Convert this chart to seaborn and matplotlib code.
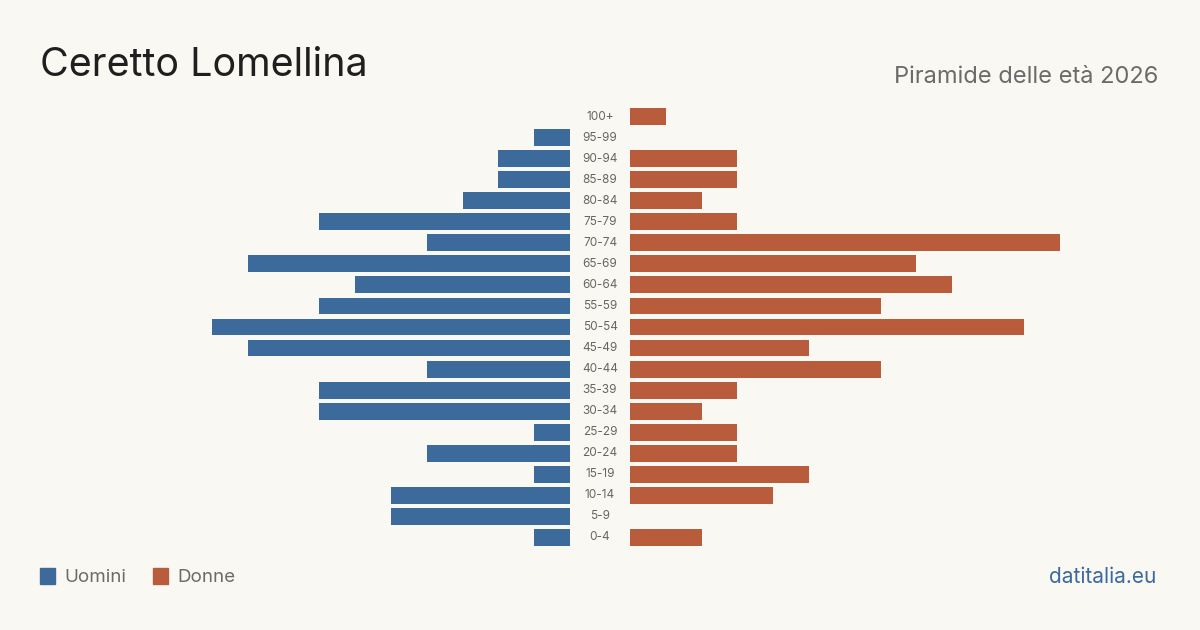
import matplotlib
matplotlib.use("Agg")
import matplotlib.pyplot as plt
import seaborn as sns
import pandas as pd
from matplotlib.patches import Rectangle

# dati piramide (dall'alto verso il basso)
classi = ["100+", "95-99", "90-94", "85-89", "80-84", "75-79", "70-74", "65-69",
          "60-64", "55-59", "50-54", "45-49", "40-44", "35-39", "30-34", "25-29",
          "20-24", "15-19", "10-14", "5-9", "0-4"]
uomini = [0, 1, 2, 2, 3, 7, 4, 9, 6, 7, 10, 9, 4, 7, 7, 1, 4, 1, 5, 5, 1]
donne = [1, 0, 3, 3, 2, 3, 12, 8, 9, 7, 11, 5, 7, 3, 2, 3, 3, 5, 4, 0, 2]

titolo = "Ceretto Lomellina"
sottotitolo = "Piramide delle età 2026"
fonte = "datitalia.eu"

BLU = "#3b6a9b"
ROSSO = "#b95c3c"
SFONDO = "#f9f8f3"

sns.set_theme(style="white")
plt.rcParams["font.family"] = ["Inter", "DejaVu Sans"]

df = pd.DataFrame({"classe": classi, "uomini": uomini, "donne": donne})

fig = plt.figure(figsize=(12, 6.3), dpi=100)
fig.patch.set_facecolor(SFONDO)

W, H = 1200, 630
xmax = 12
px_unit = 35.8
top_px, bot_px = 106, 548
ax_b = (H - bot_px) / H
ax_h = (bot_px - top_px) / H
w_frac = xmax * px_unit / W

axL = fig.add_axes([(570 - xmax * px_unit) / W, ax_b, w_frac, ax_h])
axR = fig.add_axes([630 / W, ax_b, w_frac, ax_h])

sns.barplot(data=df, x="uomini", y="classe", color=BLU, width=0.8,
            saturation=1, linewidth=0, ax=axL)
sns.barplot(data=df, x="donne", y="classe", color=ROSSO, width=0.8,
            saturation=1, linewidth=0, ax=axR)

axL.set_xlim(xmax, 0)
axR.set_xlim(0, xmax)
for ax in (axL, axR):
    ax.set_ylim(len(classi) - 0.5, -0.5)
    ax.set_facecolor("none")
    ax.axis("off")

# etichette delle classi al centro
for i, c in enumerate(classi):
    fig.text(600 / W, 1 - (116.5 + i * 21.05) / H, c, ha="center", va="center",
             fontsize=8.5, color="#666666")

fig.text(40 / W, 1 - 66 / H, titolo, ha="left", va="center",
         fontsize=28.4, color="#1f1f1f")
fig.text(1158 / W, 1 - 77 / H, sottotitolo, ha="right", va="center",
         fontsize=17, color="#6b6b6b")

# legenda
fig.patches.append(Rectangle((40 / W, 1 - 584 / H), 15 / W, 16 / H,
                             transform=fig.transFigure, color=BLU))
fig.text(64 / W, 1 - 577 / H, "Uomini", ha="left", va="center",
         fontsize=13.5, color="#6b6b6b")
fig.patches.append(Rectangle((153 / W, 1 - 584 / H), 15 / W, 16 / H,
                             transform=fig.transFigure, color=ROSSO))
fig.text(177 / W, 1 - 577 / H, "Donne", ha="left", va="center",
         fontsize=13.5, color="#6b6b6b")

fig.text(1156 / W, 1 - 577 / H, fonte, ha="right", va="center",
         fontsize=15, color=BLU)

fig.savefig("out.png", dpi=100, facecolor=SFONDO)
